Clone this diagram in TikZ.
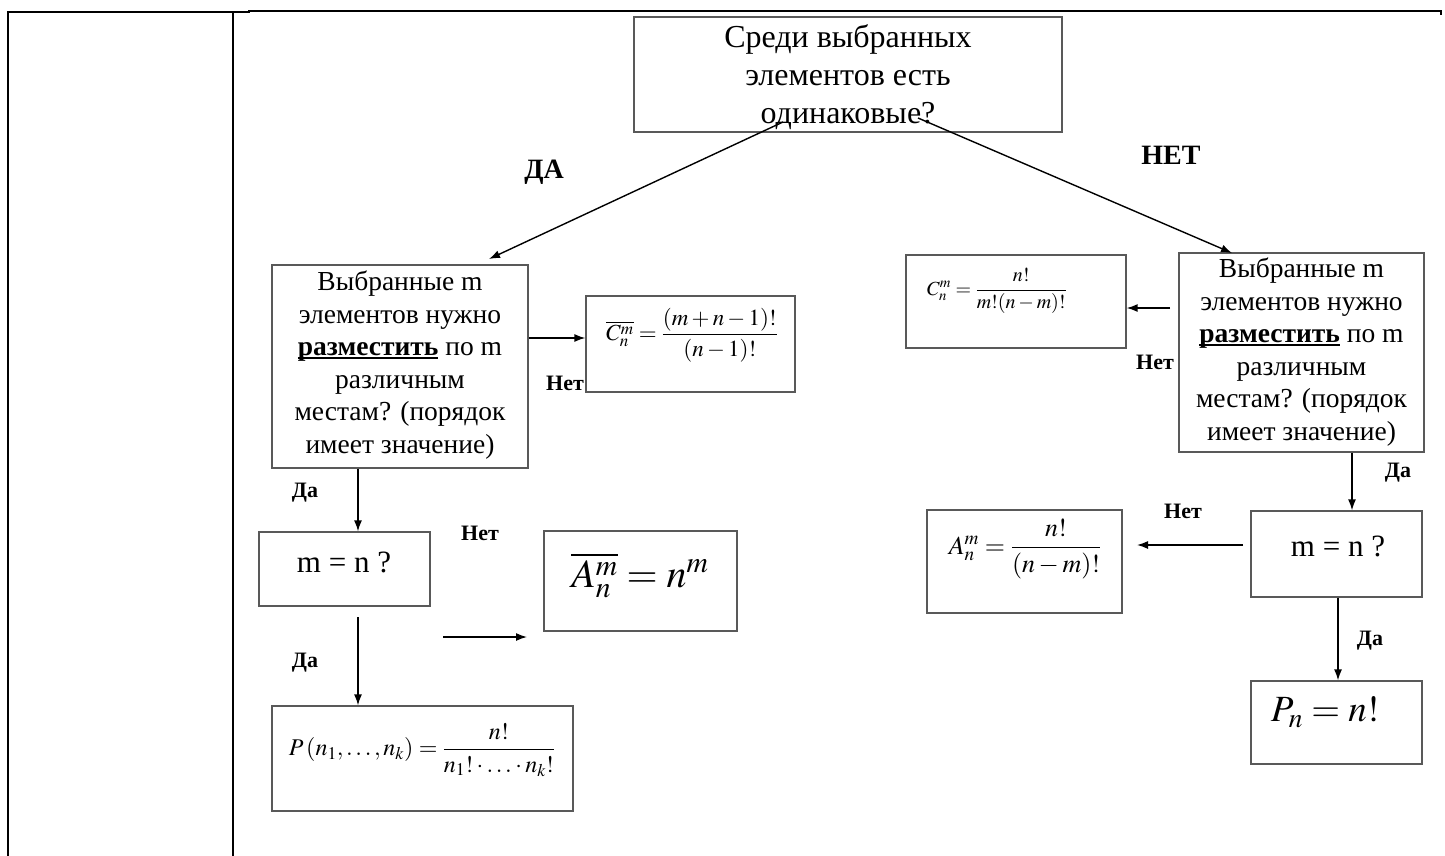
\documentclass[tikz,border=0pt]{standalone}
\usepackage{amsmath}
\usepackage{mathptmx}
\usepackage{fontspec}
\setmainfont{Liberation Serif}
\usetikzlibrary{arrows.meta}
\newcommand{\ulword}[1]{\setbox0\hbox{#1}\rlap{\rule[-0.11em]{\wd0}{0.07em}}\box0\relax}
\tikzset{
  box/.style={draw=black!65, line width=1.3pt, rectangle, inner sep=0pt},
  conn/.style={line width=1.4pt, -{Latex[length=11pt,width=8pt]}},
  tbl/.style={line width=2.6pt, line cap=rect},
  lab/.style={font=\fontsize{22}{24}\selectfont\bfseries, inner sep=0pt},
  biglab/.style={font=\fontsize{28}{30}\selectfont\bfseries, inner sep=0pt},
  qtext/.style={align=center, inner sep=0pt},
}
\begin{document}
\begin{tikzpicture}[x=1pt,y=-1pt]
\useasboundingbox (0,0) rectangle (1445,855);
% table frame
\draw[tbl] (8,855) -- (8,12) -- (249,12);
\draw[tbl] (233,12) -- (233,855);
\draw[line width=1.6pt] (248,11) -- (1440,11);
\draw[line width=2.6pt] (1441,10) -- (1441,15);
% boxes
\node[box, minimum width=428pt, minimum height=115pt] (top) at (848,74.5) {};
\node[box, minimum width=256pt, minimum height=203pt] (ldec) at (400,366.5) {};
\node[box, minimum width=209pt, minimum height=96pt] (cbar) at (690.5,344) {};
\node[box, minimum width=220pt, minimum height=93pt] (rc) at (1016,301.5) {};
\node[box, minimum width=245pt, minimum height=199pt] (rdec) at (1301.5,352.5) {};
\node[box, minimum width=171pt, minimum height=74pt] (lmn) at (344.5,569) {};
\node[box, minimum width=193pt, minimum height=100pt] (abar) at (640.5,581) {};
\node[box, minimum width=301pt, minimum height=105pt] (pbox) at (422.5,758.5) {};
\node[box, minimum width=195pt, minimum height=103pt] (ra) at (1024.5,561.5) {};
\node[box, minimum width=171pt, minimum height=86pt] (rmn) at (1336.5,554) {};
\node[box, minimum width=171pt, minimum height=83pt] (pn) at (1336.5,722.5) {};
% texts
\node[qtext, font=\fontsize{32}{37.8}\selectfont] (toptext) at (848,77) {Среди выбранных\\элементов есть\\одинаковые?};
\node[qtext, font=\fontsize{27.5}{32.6}\selectfont] (ldectext) at (400,365) {Выбранные m\\элементов нужно\\\ulword{\textbf{разместить}} по m\\различным\\местам? (порядок\\имеет значение)};
\node[qtext, font=\fontsize{27.5}{32.6}\selectfont] (rdectext) at (1301.5,352) {Выбранные m\\элементов нужно\\\ulword{\textbf{разместить}} по m\\различным\\местам? (порядок\\имеет значение)};
\node[qtext, font=\fontsize{31}{34}\selectfont] (lmntext) at (344,562) {m = n ?};
\node[qtext, font=\fontsize{31}{34}\selectfont] (rmntext) at (1338,546) {m = n ?};
\node[qtext, font=\fontsize{23}{26}\selectfont] (cbarf) at (692,335) {$\overline{C_n^m} = \dfrac{(m+n-1)!}{(n-1)!}$};
\node[qtext, font=\fontsize{20}{23}\selectfont] (rcf) at (997,291) {$C_n^m = \dfrac{n!}{m!(n-m)!}$};
\node[qtext, font=\fontsize{40}{44}\selectfont] (abarf) at (640,575) {$\overline{A_n^m} = n^m$};
\node[qtext, font=\fontsize{26}{29}\selectfont] (raf) at (1025,549) {$A_n^m = \dfrac{n!}{(n-m)!}$};
\node[qtext, font=\fontsize{24}{27}\selectfont] (pf) at (422,750) {$P\left(n_1,\ldots,n_k\right) = \dfrac{n!}{n_1!\cdot\ldots\cdot n_k!}$};
\node[qtext, font=\fontsize{37}{41}\selectfont] (pnf) at (1325,712) {$P_n = n!$};
% connector endpoints
\coordinate (s1) at (783,122);
\coordinate (e1) at (489,259);
\coordinate (s2) at (918,118);
\coordinate (e2) at (1232,253);
\coordinate (s3) at (1170,308);
\coordinate (s4) at (358,617);
\coordinate (f1) at (443,637);
\coordinate (f2) at (527,637);
\coordinate (g1) at (1243,545);
\coordinate (g2) at (1137,545);
% connectors
\draw[conn] (s1) -- (e1);
\draw[conn] (s2) -- (e2);
\draw[conn] (ldec.east |- 0,338) -- (cbar.west |- 0,338);
\draw[conn] (s3) -- (rc.east |- s3);
\draw[conn] (ldec.south -| 358,0) -- (lmn.north -| 358,0);
\draw[conn] (s4) -- (pbox.north -| s4);
\draw[conn] (f1) -- (f2);
\draw[conn] (rdec.south -| 1352,0) -- (rmn.north -| 1352,0);
\draw[conn] (g1) -- (g2);
\draw[conn] (rmn.south -| 1338,0) -- (pn.north -| 1338,0);
% labels
\node[biglab] (da) at (544,172) {ДА};
\node[biglab] (net) at (1171,155) {НЕТ};
\node[lab] (l1) at (565,383) {Нет};
\node[lab] (l2) at (1155,362) {Нет};
\node[lab] (l3) at (305,493) {Да};
\node[lab] (l4) at (480,533) {Нет};
\node[lab] (l5) at (305,663) {Да};
\node[lab] (l6) at (1398,473) {Да};
\node[lab] (l7) at (1183,511) {Нет};
\node[lab] (l8) at (1370,641) {Да};
\end{tikzpicture}
\end{document}
